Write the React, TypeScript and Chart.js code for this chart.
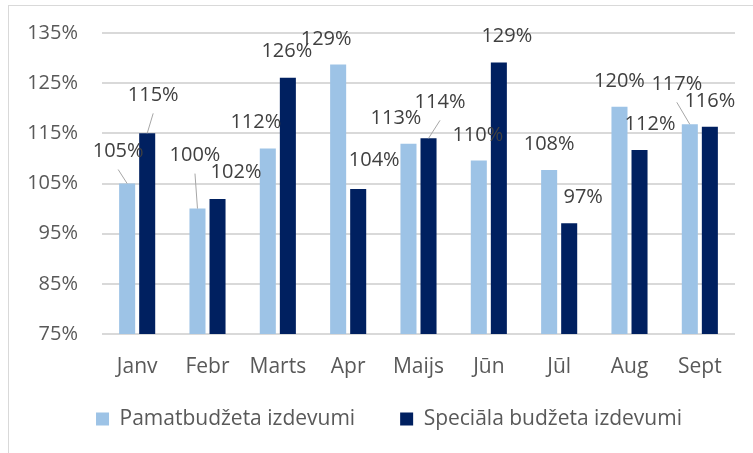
import React, { useEffect, useRef } from "react";
import { Chart, registerables } from "chart.js";

Chart.register(...registerables);

const categories = ["Janv", "Febr", "Marts", "Apr", "Maijs", "Jūn", "Jūl", "Aug", "Sept"];
const pamatbudzetaValues = [105, 100, 112, 128.7, 112.9, 109.6, 107.7, 120.3, 116.8];
const specialaValues = [115, 101.9, 126.1, 103.9, 114, 129.1, 97.1, 111.7, 116.3];
const seriesNames = ["Pamatbudžeta izdevumi", "Speciāla budžeta izdevumi"];
const yMin = 75;
const yMax = 135;
const yStep = 10;

// label placement (dx, dy from bar top centre, leader line flag)
const labelPlacement: [number, number, boolean][][] = [
  [[-9, -32, true], [-2.5, -53, true], [-12, -26, false], [-12, -25.5, false], [-12.5, -26, false], [-1, -25.5, false], [0, -25.5, false], [0, -25.5, false], [-13, -40, true]],
  [[6, -38, true], [18.5, -27, false], [-1, -26, false], [16, -29, false], [11.5, -36, true], [8, -26, false], [14, -25.5, false], [10.5, -25.5, false], [0, -25.5, false]],
];

const FONT = "'Open Sans', sans-serif";

const labelPlugin = {
  id: "barLabels",
  afterDatasetsDraw(chart: any) {
    const ctx = chart.ctx;
    ctx.save();
    ctx.font = `20px ${FONT}`;
    ctx.textAlign = "center";
    ctx.textBaseline = "middle";
    chart.data.datasets.forEach((ds: any, di: number) => {
      const meta = chart.getDatasetMeta(di);
      meta.data.forEach((bar: any, i: number) => {
        const [dx, dy, leader] = labelPlacement[di][i];
        const lx = bar.x + dx;
        const ly = bar.y + dy;
        if (leader) {
          ctx.strokeStyle = "#a6a6a6";
          ctx.lineWidth = 1;
          ctx.beginPath();
          ctx.moveTo(lx, ly + 18);
          ctx.lineTo(bar.x, bar.y);
          ctx.stroke();
        }
        ctx.fillStyle = "#404040";
        ctx.fillText(Math.round(ds.data[i]) + "%", lx, ly);
      });
    });
    ctx.restore();
  },
};

// place legend row: centre x and text centre y (canvas coordinates)
const legendPlace = {
  id: "legendPlace",
  afterLayout(chart: any) {
    const lg = chart.legend;
    if (!lg) return;
    const pad = lg.options.labels.padding;
    const fs = lg.options.labels.font.size;
    const dx = 380 - (lg.left + lg.right) / 2;
    const dy = 413 - (lg.top + pad + fs / 2);
    lg.left += dx;
    lg.right += dx;
    lg.top += dy;
    lg.bottom = lg.top + 100;
    lg.height = 100;
  },
};

export default function App() {
  const ref = useRef<HTMLCanvasElement>(null);
  useEffect(() => {
    if (!ref.current) return;
    const chart: any = new Chart(ref.current, {
      type: "bar",
      data: {
        labels: categories,
        datasets: [
          {
            label: seriesNames[0],
            data: pamatbudzetaValues,
            backgroundColor: "#9dc3e6",
            categoryPercentage: 0.57,
            barPercentage: 0.8,
          },
          {
            label: seriesNames[1],
            data: specialaValues,
            backgroundColor: "#002060",
            categoryPercentage: 0.57,
            barPercentage: 0.8,
          },
        ],
      },
      options: {
        responsive: false,
        animation: false,
        layout: { padding: { top: 27, left: 0, right: 24, bottom: 16 } },
        plugins: {
          tooltip: { enabled: false },
          legend: {
            position: "bottom",
            maxHeight: 46,
            labels: {
              boxWidth: 13,
              boxHeight: 13,
              padding: 45,
              color: "#595959",
              font: { family: FONT, size: 21 },
            },
          },
        },
        scales: {
          x: {
            grid: { display: false, drawTicks: false },
            border: { display: false },
            ticks: { color: "#595959", font: { family: FONT, size: 21 }, padding: 20 },
            afterFit: (s: any) => {
              s.height = 62;
              s.paddingLeft = 0;
              s.paddingRight = 0;
            },
          },
          y: {
            min: yMin,
            max: yMax,
            ticks: {
              stepSize: yStep,
              color: "#595959",
              font: { family: FONT, size: 20 },
              padding: 24,
              callback: (v: any) => v + "%",
            },
            grid: { color: "#d9d9d9", lineWidth: 2, drawTicks: false },
            border: { display: false },
            afterFit: (s: any) => {
              s.width = 93;
              s.paddingTop = 0;
              s.paddingBottom = 0;
            },
          },
        },
      },
      plugins: [labelPlugin, legendPlace],
    });
    return () => chart.destroy();
  }, []);

  return (
    <div
      style={{
        position: "fixed",
        left: 8,
        top: 5,
        width: 800,
        height: 500,
        border: "1px solid #d9d9d9",
        background: "#fff",
      }}
    >
      <canvas ref={ref} width={750} height={452} style={{ display: "block" }} />
    </div>
  );
}
